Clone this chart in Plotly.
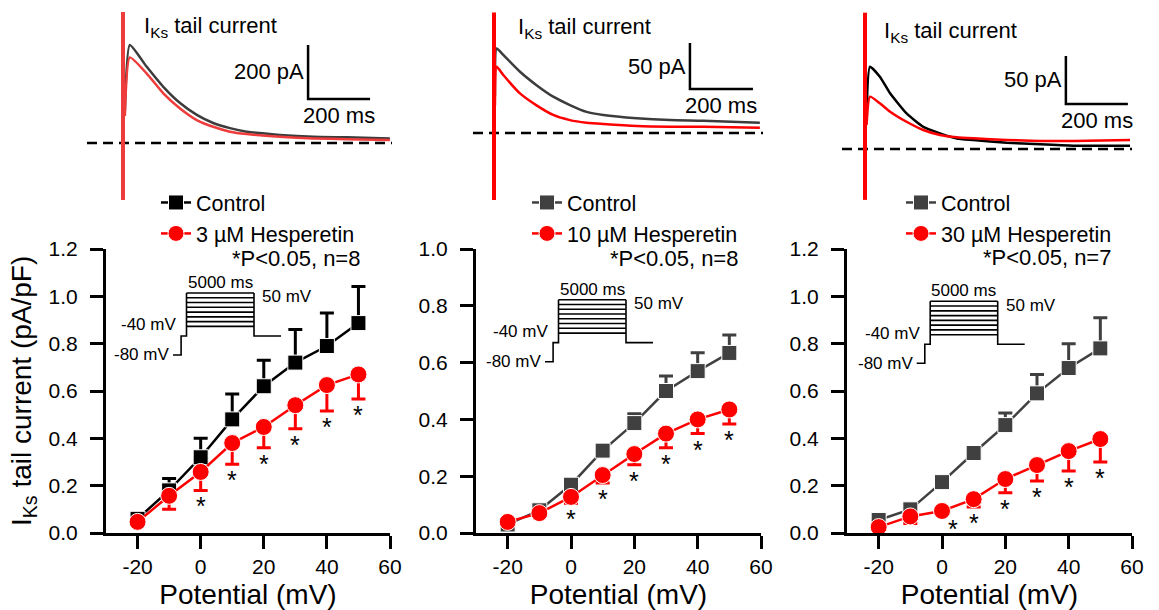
import plotly.graph_objects as go

# ---------------- data ----------------
potential = [-20, -10, 0, 10, 20, 30, 40, 50]          # mV
x_ticks = [-20, 0, 20, 40, 60]
sig_points = [0, 10, 20, 30, 40, 50]                   # *P<0.05

ctrl_a = [0.06, 0.18, 0.32, 0.48, 0.62, 0.72, 0.79, 0.887]
ctrl_a_err = [0.015, 0.05, 0.08, 0.107, 0.11, 0.14, 0.14, 0.155]
hesp3 = [0.047, 0.157, 0.258, 0.38, 0.448, 0.54, 0.625, 0.67]
hesp3_err = [0.01, 0.057, 0.078, 0.09, 0.088, 0.10, 0.11, 0.104]

ctrl_b = [0.03, 0.08, 0.17, 0.29, 0.387, 0.50, 0.57, 0.634]
ctrl_b_err = [0.005, 0.01, 0.02, 0.01, 0.033, 0.053, 0.065, 0.063]
hesp10 = [0.039, 0.07, 0.127, 0.204, 0.278, 0.35, 0.40, 0.435]
hesp10_err = [0.005, 0.01, 0.022, 0.028, 0.038, 0.05, 0.05, 0.051]

ctrl_c = [0.055, 0.10, 0.215, 0.338, 0.456, 0.59, 0.697, 0.78]
ctrl_c_err = [0.01, 0.01, 0.01, 0.01, 0.051, 0.08, 0.103, 0.13]
hesp30 = [0.025, 0.07, 0.093, 0.143, 0.228, 0.287, 0.346, 0.397]
hesp30_err = [0.01, 0.03, 0.01, 0.033, 0.058, 0.067, 0.084, 0.097]

drug_labels = ["3 µM Hesperetin", "10 µM Hesperetin", "30 µM Hesperetin"]
n_labels = ["*P<0.05, n=8", "*P<0.05, n=8", "*P<0.05, n=7"]

# tail-current example traces (time in ms, current in pA)
tail_t_a = [6, 22, 76, 130, 184, 238, 291, 345, 399, 506, 614, 722, 861]
tail_ctrl_a = [120, 363, 283, 208, 148, 104, 74, 55, 42, 30, 23, 21, 17]
tail_drug_a = [100, 317, 258, 184, 128, 85, 60, 42, 33, 23, 17, 14, 11]

tail_t_b = [3, 8.5, 29.6, 82.5, 135, 188, 241, 294, 347, 453, 559, 664, 844]
tail_ctrl_b = [40, 92, 84.8, 66.6, 52, 39.5, 30.4, 23, 19.6, 16, 14, 13.4, 11.2]
tail_drug_b = [30, 72, 63, 43, 30, 19.6, 14, 11.2, 9.8, 7.6, 6.9, 6.9, 5.8]

tail_t_c = [5, 16, 48, 81, 134, 188, 242, 296, 349, 457, 564, 672, 855]
tail_ctrl_c = [30, 85.7, 75.3, 58, 37, 23, 16.3, 11, 9.4, 6.6, 4.9, 3.5, 3.5]
tail_drug_c = [25, 54.5, 47.6, 38.9, 28.4, 19.8, 14.6, 12.2, 11.1, 9.4, 8.3, 8.3, 9.4]

spike_a = [-211, 485]
spike_b = [-73, 131]
spike_c = [-53, 142]

scale_pa = [200, 50, 50]
scale_ms = [200, 200, 200]

# voltage protocol
proto_hold_mv, proto_pre_mv = -80, -40
proto_test_mv = [-20, -10, 0, 10, 20, 30, 40, 50]
proto_hold_ms, proto_pre_ms, proto_test_ms, proto_tail_ms = 600, 400, 5000, 2000

# ---------------- layout helpers ----------------
W, H = 1159, 610
FONT = "Liberation Sans, Arial, sans-serif"


def xd(a, b):
    return [a / W, b / W]


def yd(top, bottom):
    return [1 - bottom / H, 1 - top / H]


def px(x, y):
    return x / W, 1 - y / H


fig = go.Figure()
lay = dict(
    width=W, height=H, margin=dict(l=0, r=0, t=0, b=0),
    paper_bgcolor="white", plot_bgcolor="rgba(0,0,0,0)",
    font=dict(family=FONT, color="black", size=21),
    showlegend=True,
)
annotations = []

panels = [
    dict(ctrl=ctrl_a, ce=ctrl_a_err, drug=hesp3, de=hesp3_err, ccol="#000000", dcol="#ff0000",
         xpx=(106, 390), ymax=1.2, leg=(156, 182), nlab=(362, 258), star_dx=[0, 0, 0, 0, 0, 0],
         t=tail_t_a, ic=tail_ctrl_a, idr=tail_drug_a, tcol_c="#3c3c3c", tcol_d="#ee3b3b",
         spike=spike_a, txpx=(87, 392), t0px=123, tppu=0.31, basepx=143, ippu=0.27,
         sbx=597, sbtop=363,
         ikpx=(142, 27), proto=(173, 355)),
    dict(ctrl=ctrl_b, ce=ctrl_b_err, drug=hesp10, de=hesp10_err, ccol="#404040", dcol="#ff0000",
         xpx=(476, 761), ymax=1.0, leg=(527, 182), nlab=(740, 258), star_dx=[0, 0, 0, 0, 0, 0],
         t=tail_t_b, ic=tail_ctrl_b, idr=tail_drug_b, tcol_c="#3c3c3c", tcol_d="#ff0000",
         spike=spike_b, txpx=(473, 763), t0px=494, tppu=0.315, basepx=133, ippu=0.92,
         sbx=622, sbtop=97.8,
         ikpx=(516, 28), proto=(545, 361.7)),
    dict(ctrl=ctrl_c, ce=ctrl_c_err, drug=hesp30, de=hesp30_err, ccol="#404040", dcol="#ff0000",
         xpx=(847, 1132), ymax=1.2, leg=(901, 182), nlab=(1113, 257), star_dx=[11, 0, 0, 0, 0, 0],
         t=tail_t_c, ic=tail_ctrl_c, idr=tail_drug_c, tcol_c="#000000", tcol_d="#ff0000",
         spike=spike_c, txpx=(842, 1132), t0px=865, tppu=0.31, basepx=149, ippu=0.96,
         sbx=648, sbtop=96.9,
         ikpx=(882, 32), proto=(916.7, 363.3)),
]

for i, p in enumerate(panels):
    k = i + 1
    xs = "" if k == 1 else str(k)
    xa, ya = "x" + xs, "y" + xs
    leg = "legend" if k == 1 else "legend" + str(k)

    # ---- main I-V axes ----
    lay["xaxis" + xs] = dict(
        domain=xd(*p["xpx"]), range=[-30, 60], anchor=ya,
        showline=True, linewidth=3, linecolor="black", mirror=False,
        ticks="outside", ticklen=13, tickwidth=3, tickcolor="black",
        tickvals=x_ticks, ticktext=[str(v) for v in x_ticks],
        tickfont=dict(size=21, color="black"),
        showgrid=False, zeroline=False, automargin=False,
        title=dict(text="Potential (mV)", font=dict(size=28, color="black"), standoff=15),
    )
    lay["yaxis" + xs] = dict(
        domain=yd(249, 533), range=[0, p["ymax"]], anchor=xa,
        showline=True, linewidth=3, linecolor="black",
        ticks="outside", ticklen=13, tickwidth=3, tickcolor="black",
        dtick=0.2, tick0=0, tickformat=".1f", tickfont=dict(size=21, color="black"),
        ticklabelstandoff=8,
        showgrid=False, zeroline=False, automargin=False,
    )

    fig.add_trace(go.Scatter(
        x=potential, y=p["ctrl"], xaxis=xa, yaxis=ya, name="Control", legend=leg,
        mode="lines+markers", line=dict(color=p["ccol"], width=2.5),
        marker=dict(symbol="square", size=15, color=p["ccol"], line=dict(color="white", width=1)),
        error_y=dict(type="data", symmetric=False, array=p["ce"], arrayminus=[0] * len(p["ce"]),
                     color=p["ccol"], thickness=3, width=7),
        cliponaxis=False,
    ))
    fig.add_trace(go.Scatter(
        x=potential, y=p["drug"], xaxis=xa, yaxis=ya, name=drug_labels[i], legend=leg,
        mode="lines+markers", line=dict(color=p["dcol"], width=2.5),
        marker=dict(symbol="circle", size=17, color=p["dcol"], line=dict(color="white", width=1)),
        error_y=dict(type="data", symmetric=False, array=[0] * len(p["de"]), arrayminus=p["de"],
                     color=p["dcol"], thickness=3, width=7),
        cliponaxis=False,
    ))

    lx, ly = px(*p["leg"])
    lay[leg] = dict(x=lx, y=ly, xanchor="left", yanchor="top", bgcolor="rgba(0,0,0,0)",
                    font=dict(size=21.5, color="black", family=FONT), tracegroupgap=0,
                    itemwidth=30)

    nx, ny = px(*p["nlab"])
    annotations.append(dict(text=n_labels[i], x=nx, y=ny, xref="paper", yref="paper",
                            xanchor="right", yanchor="middle", showarrow=False,
                            font=dict(size=22, color="black")))

    # significance stars
    for j, v in enumerate(sig_points):
        idx = potential.index(v)
        annotations.append(dict(text="*", x=v, y=p["drug"][idx] - p["de"][idx],
                                xref=xa, yref=ya, xanchor="center", yanchor="middle",
                                yshift=-16, xshift=p["star_dx"][j], showarrow=False,
                                font=dict(size=25, color="black")))

    # ---- tail current traces ----
    tk = k + 3
    txa, tya = "x" + str(tk), "y" + str(tk)
    t0, tppu = p["t0px"], p["tppu"]
    b0, ippu = p["basepx"], p["ippu"]
    lo_t = (p["txpx"][0] - t0) / tppu
    hi_t = (p["txpx"][1] - t0) / tppu
    lo_i = (b0 - 200) / ippu
    hi_i = (b0 - 12) / ippu
    lay["xaxis" + str(tk)] = dict(domain=xd(*p["txpx"]), range=[lo_t, hi_t], anchor=tya,
                                  visible=False, fixedrange=True)
    lay["yaxis" + str(tk)] = dict(domain=yd(12, 200), range=[lo_i, hi_i], anchor=txa,
                                  visible=False, fixedrange=True)

    fig.add_trace(go.Scatter(x=[lo_t, hi_t], y=[0, 0], xaxis=txa, yaxis=tya, mode="lines",
                             line=dict(color="black", width=2.5, dash="10px,6px"), showlegend=False))
    fig.add_trace(go.Scatter(x=p["t"], y=p["ic"], xaxis=txa, yaxis=tya, mode="lines",
                             line=dict(color=p["tcol_c"], width=2.5, shape="spline", smoothing=0.5),
                             showlegend=False))
    fig.add_trace(go.Scatter(x=p["t"], y=p["idr"], xaxis=txa, yaxis=tya, mode="lines",
                             line=dict(color=p["tcol_d"], width=2.5, shape="spline", smoothing=0.5),
                             showlegend=False))
    fig.add_trace(go.Scatter(x=[0, 0], y=p["spike"], xaxis=txa, yaxis=tya, mode="lines",
                             line=dict(color=p["tcol_d"], width=4), showlegend=False, cliponaxis=False))
    # scale bar
    sb_bottom = p["sbtop"] - scale_pa[i]
    fig.add_trace(go.Scatter(x=[p["sbx"], p["sbx"], p["sbx"] + scale_ms[i]],
                             y=[p["sbtop"], sb_bottom, sb_bottom], xaxis=txa, yaxis=tya,
                             mode="lines", line=dict(color="black", width=2.5), showlegend=False))
    annotations.append(dict(text=f"{scale_pa[i]} pA", x=p["sbx"], y=p["sbtop"] - scale_pa[i] / 2,
                            xref=txa, yref=tya, xanchor="right", yanchor="middle", xshift=-2,
                            showarrow=False, font=dict(size=22, color="black")))
    annotations.append(dict(text=f"{scale_ms[i]} ms", x=p["sbx"] + scale_ms[i] / 2, y=sb_bottom,
                            xref=txa, yref=tya, xanchor="center", yanchor="top", yshift=-2,
                            showarrow=False, font=dict(size=22, color="black")))
    ix, iy = px(*p["ikpx"])
    annotations.append(dict(text="I<sub>Ks</sub> tail current", x=ix, y=iy, xref="paper", yref="paper",
                            xanchor="left", yanchor="middle", showarrow=False,
                            font=dict(size=22, color="black")))

    # ---- voltage protocol inset ----
    pk = k + 6
    pxa, pya = "x" + str(pk), "y" + str(pk)
    hx, hy = p["proto"]
    mv_ppu = 62 / 130
    ms_ppu = 67.5 / 5000
    total_ms = proto_hold_ms + proto_pre_ms + proto_test_ms + proto_tail_ms
    lay["xaxis" + str(pk)] = dict(domain=xd(hx - 100 * ms_ppu, hx + (total_ms + 100) * ms_ppu),
                                  range=[-100, total_ms + 100], anchor=pya, visible=False, fixedrange=True)
    lay["yaxis" + str(pk)] = dict(domain=yd(hy - (50 + 80 + 5) * mv_ppu, hy + 5 * mv_ppu),
                                  range=[-85, 55], anchor=pxa, visible=False, fixedrange=True)
    t1 = proto_hold_ms
    t2 = t1 + proto_pre_ms
    t3 = t2 + proto_test_ms
    t4 = t3 + proto_tail_ms
    top = max(proto_test_mv)
    px_list = [0, t1, t1, t2, t2, None]
    py_list = [proto_hold_mv, proto_hold_mv, proto_pre_mv, proto_pre_mv, top, None]
    for v in proto_test_mv:
        px_list += [t2, t3, None]
        py_list += [v, v, None]
    px_list += [t3, t3, t4]
    py_list += [top, proto_pre_mv, proto_pre_mv]
    fig.add_trace(go.Scatter(x=px_list, y=py_list, xaxis=pxa, yaxis=pya, mode="lines",
                             line=dict(color="black", width=1.6), showlegend=False))
    annotations += [
        dict(text="5000 ms", x=(t2 + t3) / 2, y=top, xref=pxa, yref=pya, xanchor="center",
             yanchor="bottom", yshift=-1, showarrow=False, font=dict(size=17, color="black")),
        dict(text="50 mV", x=t3, y=top, xref=pxa, yref=pya, xanchor="left", yanchor="middle",
             xshift=6, yshift=-4, showarrow=False, font=dict(size=17, color="black")),
        dict(text="-40 mV", x=t1, y=proto_pre_mv, xref=pxa, yref=pya, xanchor="right",
             yanchor="middle", xshift=-3, yshift=11, showarrow=False, font=dict(size=17, color="black")),
        dict(text="-80 mV", x=0, y=proto_hold_mv, xref=pxa, yref=pya, xanchor="right",
             yanchor="middle", xshift=-2, showarrow=False, font=dict(size=17, color="black")),
    ]

# shared y-axis title (centred on the first panel's y axis)
tx, ty = px(23, 391)
annotations.append(dict(text="I<sub>Ks</sub> tail current (pA/pF)", x=tx, y=ty, xref="paper", yref="paper",
                        textangle=-90, xanchor="center", yanchor="middle", showarrow=False,
                        font=dict(size=28, color="black")))

lay["annotations"] = annotations
fig.update_layout(**lay)
fig.write_html("out.html", config={"displayModeBar": False},
               post_script="document.body.style.margin='0px';document.body.style.overflow='hidden';")
